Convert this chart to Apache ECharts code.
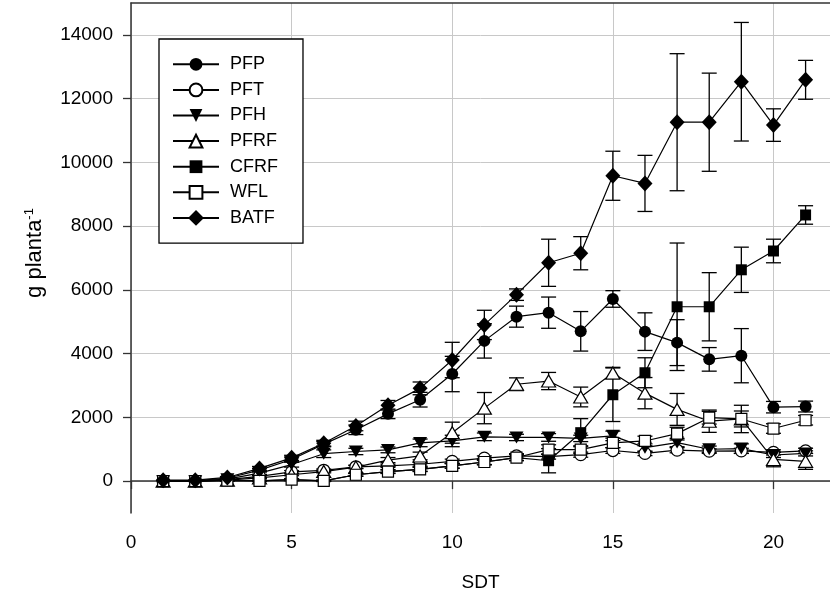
<!DOCTYPE html>
<html>
<head>
<meta charset="utf-8">
<script src="https://cdn.jsdelivr.net/npm/echarts@6/dist/echarts.min.js"></script>
<style>
  html, body { margin: 0; padding: 0; background: #fff; }
  #chart { width: 830px; height: 600px; }
</style>
</head>
<body>
<div id="chart"></div>
<script>
// Days after transplant (SDT)
const days = [1, 2, 3, 4, 5, 6, 7, 8, 9, 10, 11, 12, 13, 14, 15, 16, 17, 18, 19, 20, 21];

// Mean dry matter (g per plant) by organ
const pfp  = [20, 20, 90, 345, 680, 1160, 1610, 2110, 2555, 3360, 4400, 5160, 5285, 4700, 5715, 4690, 4345, 3820, 3935, 2320, 2340];
const pft  = [0, 0, 50, 150, 290, 340, 450, 480, 530, 620, 720, 790, 770, 830, 960, 870, 970, 940, 950, 900, 950];
const pfh  = [0, 0, 60, 250, 520, 860, 930, 980, 1200, 1260, 1390, 1370, 1370, 1340, 1420, 1050, 1210, 1000, 1020, 820, 870];
const pfrf = [0, 0, 30, 100, 200, 300, 440, 660, 790, 1520, 2290, 3040, 3140, 2640, 3390, 2760, 2250, 1880, 1950, 680, 620];
const cfrf = [0, 0, 20, 10, 50, 10, 200, 300, 370, 480, 600, 740, 640, 1520, 2710, 3400, 5470, 5470, 6630, 7220, 8350];
const wfl  = [0, 0, 20, 10, 50, 10, 200, 300, 370, 480, 600, 740, 990, 990, 1200, 1260, 1490, 1990, 1950, 1650, 1910];
const batf = [30, 30, 115, 400, 730, 1190, 1730, 2380, 2910, 3800, 4900, 5850, 6850, 7150, 9580, 9340, 11260, 11260, 12530, 11170, 12590];

// Standard deviations drawn as error bars
const pfpSd  = [0, 0, 20, 50, 80, 80, 150, 150, 230, 555, 540, 330, 490, 620, 260, 590, 720, 370, 850, 180, 170];
const pftSd  = [0, 0, 10, 30, 40, 40, 50, 50, 60, 70, 70, 70, 80, 80, 90, 70, 80, 70, 80, 80, 80];
const pfhSd  = [0, 0, 20, 40, 80, 120, 100, 90, 120, 180, 120, 100, 120, 100, 150, 120, 130, 100, 150, 80, 80];
const pfrfSd = [0, 0, 10, 20, 30, 40, 50, 80, 120, 330, 490, 200, 270, 310, 180, 490, 500, 350, 430, 230, 250];
const cfrfSd = [0, 0, 10, 10, 20, 20, 40, 50, 60, 70, 80, 90, 380, 440, 840, 470, 2000, 1070, 710, 370, 290];
const wflSd  = [0, 0, 10, 20, 30, 20, 50, 60, 70, 80, 90, 100, 150, 120, 150, 150, 200, 200, 250, 150, 150];
const batfSd = [0, 0, 30, 60, 80, 90, 150, 150, 200, 555, 460, 180, 740, 520, 770, 880, 2150, 1540, 1860, 510, 610];

// Axis tick labels
const xTicks = [0, 5, 10, 15, 20];
const yTicks = [0, 2000, 4000, 6000, 8000, 10000, 12000, 14000];

const FONT = 'Liberation Sans, Arial, sans-serif';
const INK = '#000';
const downTriangle = 'path://M0,0 L12,0 L6,10.4 Z';
const diamond = 'path://M0,-1 L1,0 L0,1 L-1,0 Z';

const groups = [
  { name: 'PFP',  vals: pfp,  sd: pfpSd,  symbol: 'circle',   size: 12,      fill: INK },
  { name: 'PFT',  vals: pft,  sd: pftSd,  symbol: 'circle',   size: 12,      fill: '#fff' },
  { name: 'PFH',  vals: pfh,  sd: pfhSd,  symbol: downTriangle, size: [14, 12], fill: INK },
  { name: 'PFRF', vals: pfrf, sd: pfrfSd, symbol: 'triangle', size: [14, 12], fill: '#fff' },
  { name: 'CFRF', vals: cfrf, sd: cfrfSd, symbol: 'rect',     size: 11,      fill: INK },
  { name: 'WFL',  vals: wfl,  sd: wflSd,  symbol: 'rect',     size: 11,      fill: '#fff' },
  { name: 'BATF', vals: batf, sd: batfSd, symbol: diamond,    size: [15, 16], fill: INK }
];

function errorBars(g) {
  return {
    type: 'custom',
    name: g.name + ' sd',
    silent: true,
    animation: false,
    data: days.map((d, i) => [d, g.vals[i], g.sd[i]]),
    encode: { x: 0, y: 1 },
    renderItem(params, api) {
      const x = api.value(0), y = api.value(1), e = api.value(2);
      if (!e) return null;
      const hi = api.coord([x, y + e]);
      const lo = api.coord([x, y - e]);
      const hw = 7.5;
      const style = { stroke: INK, lineWidth: 1.3 };
      return {
        type: 'group',
        children: [
          { type: 'line', shape: { x1: hi[0], y1: hi[1], x2: lo[0], y2: lo[1] }, style },
          { type: 'line', shape: { x1: hi[0] - hw, y1: hi[1], x2: hi[0] + hw, y2: hi[1] }, style },
          { type: 'line', shape: { x1: lo[0] - hw, y1: lo[1], x2: lo[0] + hw, y2: lo[1] }, style }
        ]
      };
    }
  };
}

const series = [];
groups.forEach(g => {
  series.push(errorBars(g));
  series.push({
    type: 'line',
    name: g.name,
    data: days.map((d, i) => [d, g.vals[i]]),
    symbol: g.symbol,
    symbolSize: g.size,
    showAllSymbol: true,
    animation: false,
    lineStyle: { color: INK, width: 1.2 },
    itemStyle: { color: g.fill, borderColor: INK, borderWidth: g.fill === INK ? 0 : 1.2 },
    emphasis: { disabled: true }
  });
});

// Legend entries; the diamond gets an outline so its key matches the plotted size
const legendItems = groups.map(g => g.name === 'BATF'
  ? { name: g.name, itemStyle: { borderColor: INK, borderWidth: 2.2 } }
  : { name: g.name });

const axisLine = { show: true, lineStyle: { color: '#333', width: 1.5 } };
const gridLine = { show: true, lineStyle: { color: '#c8c8c8', width: 1 } };

const chart = echarts.init(document.getElementById('chart'), null, { renderer: 'canvas' });
chart.setOption({
  backgroundColor: '#fff',
  animation: false,
  textStyle: { fontFamily: FONT },
  grid: { left: 131, right: 0, top: 3, height: 510, containLabel: false },
  legend: {
    data: legendItems,
    orient: 'vertical',
    left: 159,
    top: 39,
    padding: [16.3, 25, 16.3, 13],
    itemWidth: 46,
    itemHeight: 16,
    itemGap: 7.6,
    borderColor: INK,
    borderWidth: 1.3,
    backgroundColor: '#fff',
    selectedMode: false,
    textStyle: { fontFamily: FONT, fontSize: 18, color: INK, padding: [0, 0, 0, 6] }
  },
  xAxis: [
    {
      type: 'value',
      min: 0,
      max: 21.76,
      name: 'SDT',
      nameLocation: 'middle',
      nameGap: 60,
      nameTextStyle: { fontFamily: FONT, fontSize: 19, color: INK },
      axisLine: axisLine,
      axisTick: { show: true, length: 8, customValues: xTicks, lineStyle: { color: '#333', width: 1.3 } },
      axisLabel: { customValues: xTicks, fontFamily: FONT, fontSize: 19, color: INK, margin: 20 },
      splitLine: gridLine
    },
    {
      type: 'value',
      position: 'top',
      min: 0,
      max: 21.76,
      axisLine: axisLine,
      axisTick: { show: false },
      axisLabel: { show: false },
      splitLine: { show: false }
    }
  ],
  yAxis: {
    type: 'value',
    min: -1000,
    max: 15000,
    name: '{t|g planta}{s|-1}',
    nameLocation: 'middle',
    nameRotate: 90,
    nameGap: 84,
    nameTextStyle: {
      rich: {
        t: { fontFamily: FONT, fontSize: 22, color: INK, padding: [0, 0, 0, 10] },
        s: { fontFamily: FONT, fontSize: 13, color: INK, verticalAlign: 'top', padding: [0, 0, 11, 0] }
      }
    },
    axisLine: axisLine,
    axisTick: { show: true, length: 8, customValues: yTicks, lineStyle: { color: '#333', width: 1.3 } },
    axisLabel: {
      customValues: yTicks,
      formatter: v => String(v),
      fontFamily: FONT, fontSize: 19, color: INK, margin: 18
    },
    splitLine: gridLine
  },
  series: series
});
</script>
</body>
</html>
